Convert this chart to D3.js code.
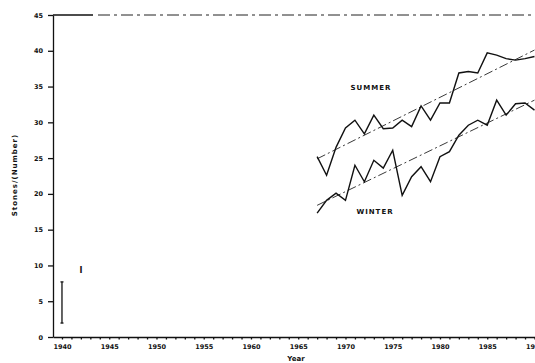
<!DOCTYPE html>
<html>
<head>
<meta charset="utf-8">
<script src="https://cdn.jsdelivr.net/npm/d3@7"></script>
<style>
  body { margin: 0; background: #fff; }
  text { font-family: "DejaVu Sans", sans-serif; font-weight: bold; fill: #111; }
</style>
</head>
<body>
<div id="chart"></div>
<script>
// values
const years = [1967, 1968, 1969, 1970, 1971, 1972, 1973, 1974, 1975, 1976, 1977, 1978,
               1979, 1980, 1981, 1982, 1983, 1984, 1985, 1986, 1987, 1988, 1989, 1990];
const summer = [25.2, 22.6, 26.5, 29.2, 30.3, 28.4, 31.0, 29.1, 29.2, 30.3, 29.4, 32.3,
                30.3, 32.7, 32.7, 36.9, 37.1, 36.9, 39.7, 39.4, 38.9, 38.7, 38.9, 39.2];
const winter = [17.3, 19.1, 20.1, 19.1, 24.0, 21.7, 24.7, 23.6, 26.1, 19.8, 22.4, 23.8,
                21.7, 25.2, 25.9, 28.2, 29.6, 30.3, 29.6, 33.1, 31.0, 32.6, 32.7, 31.7];
const trendYears = [1967, 1990];
const summerTrend = [24.9, 40.1];
const winterTrend = [18.4, 33.1];
const errYear = [1940];
const errLow = [1.95];
const errHigh = [7.7];
const yTicks = [0, 5, 10, 15, 20, 25, 30, 35, 40, 45];
const xLabelYears = [1940, 1945, 1950, 1955, 1960, 1965, 1970, 1975, 1980, 1985, 1990];

const width = 535, height = 363;

const svg = d3.select("#chart").append("svg")
    .attr("width", width)
    .attr("height", height);

const x = d3.scaleLinear().domain([1939.05, 1990.5]).range([53, 539.2]);
const y = d3.scaleLinear().domain([0, 45]).range([337, 15]);

// y axis
const yAxis = svg.append("g")
    .attr("transform", "translate(53,0)")
    .call(d3.axisLeft(y).tickValues(yTicks).tickSize(5).tickSizeOuter(0).tickPadding(5));
yAxis.selectAll("text").style("font-size", "6.5px");
yAxis.selectAll("path, line").attr("stroke", "#111").attr("stroke-width", 1.3);

// x axis, a small tick each year
const allYears = d3.range(1940, 1991);
const xAxis = svg.append("g")
    .attr("transform", "translate(0,337)")
    .call(d3.axisBottom(x).tickValues(allYears).tickSize(2.5).tickSizeOuter(0).tickPadding(5)
        .tickFormat(d => xLabelYears.includes(d) ? String(d) : ""));
xAxis.selectAll("text").style("font-size", "6.5px");
xAxis.selectAll("path, line").attr("stroke", "#111").attr("stroke-width", 1.3);

// top frame, partly broken up in the scan
svg.append("line")
    .attr("x1", 53).attr("x2", 93).attr("y1", y(45)).attr("y2", y(45))
    .attr("stroke", "#111").attr("stroke-width", 1.3);
svg.append("line")
    .attr("x1", 98).attr("x2", width).attr("y1", y(45)).attr("y2", y(45))
    .attr("stroke", "#222").attr("stroke-width", 1)
    .attr("stroke-dasharray", "12,4,3,4");

const line = d3.line().x(d => x(d[0])).y(d => y(d[1]));

// trend lines (dash-dot)
[summerTrend, winterTrend].forEach(t => {
    svg.append("path")
        .datum(trendYears.map((yr, i) => [yr, t[i]]))
        .attr("d", line)
        .attr("fill", "none")
        .attr("stroke", "#222")
        .attr("stroke-width", 0.9)
        .attr("stroke-dasharray", "9,3,2,3");
});

// seasonal series
[summer, winter].forEach(s => {
    svg.append("path")
        .datum(years.map((yr, i) => [yr, s[i]]))
        .attr("d", line)
        .attr("fill", "none")
        .attr("stroke", "#111")
        .attr("stroke-width", 1.4)
        .attr("stroke-linejoin", "miter");
});

// error bar
errYear.forEach((yr, i) => {
    const g = svg.append("g").attr("stroke", "#111").attr("stroke-width", 1.3);
    g.append("line").attr("x1", x(yr)).attr("x2", x(yr)).attr("y1", y(errLow[i])).attr("y2", y(errHigh[i]));
    g.append("line").attr("x1", x(yr) - 1.5).attr("x2", x(yr) + 1.5).attr("y1", y(errLow[i])).attr("y2", y(errLow[i]));
    g.append("line").attr("x1", x(yr) - 1.5).attr("x2", x(yr) + 1.5).attr("y1", y(errHigh[i])).attr("y2", y(errHigh[i]));
});
svg.append("text").attr("x", 81).attr("y", 273).attr("text-anchor", "middle")
    .style("font-size", "8px").text("I");

// labels
svg.append("text").attr("x", 371).attr("y", 90).attr("text-anchor", "middle")
    .style("font-size", "7px").style("letter-spacing", "1px").text("SUMMER");
svg.append("text").attr("x", 375).attr("y", 214).attr("text-anchor", "middle")
    .style("font-size", "7px").style("letter-spacing", "1px").text("WINTER");
svg.append("text").attr("x", 296).attr("y", 361).attr("text-anchor", "middle")
    .style("font-size", "7px").text("Year");
svg.append("text")
    .attr("transform", "translate(17,175) rotate(-90)")
    .attr("text-anchor", "middle")
    .style("font-size", "7px").style("letter-spacing", "1px")
    .text("Stones/(Number)");
</script>
</body>
</html>
